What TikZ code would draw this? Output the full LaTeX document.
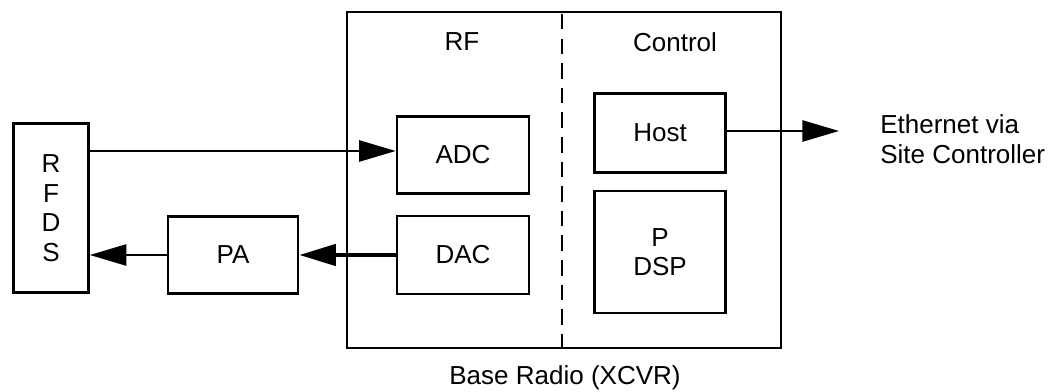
\documentclass[tikz,border=0pt]{standalone}
\usepackage{fontspec}
\setmainfont{Liberation Sans}
\usetikzlibrary{arrows.meta}

\begin{document}
\begin{tikzpicture}[x=0.025cm, y=-0.025cm,
    bloc/.style={draw, line width=1.8pt, inner sep=0pt, align=center},
    fleche/.style={line width=1.6pt, -{Triangle[length=26pt, width=15pt]}}]
    \fontsize{18.5}{21}\selectfont
    \useasboundingbox (0,0) rectangle (1052,392);

    % Boitier Base Radio
    \coordinate (NO) at (347,12);
    \coordinate (SE) at (781,348);
    \draw[line width=1.8pt] (NO) rectangle (SE);
    \draw[line width=2pt, dash pattern=on 11pt off 6.5pt] (562,14) -- (562,348);

    % Etiquettes des zones
    \node (rf) at (462,42) {RF};
    \node (ctrl) at (675,42) {Control};
    \node (radio) at (565,378) {Base Radio (XCVR)};

    % Blocs
    \node[bloc, minimum width=3.3cm, minimum height=1.925cm] (adc) at (463,155) {ADC};
    \node[bloc, minimum width=3.3cm, minimum height=1.95cm] (dac) at (463,255) {DAC};
    \node[bloc, minimum width=3.275cm, minimum height=1.975cm] (host) at (660,133) {Host};
    \node[bloc, minimum width=3.275cm, minimum height=3.05cm] (dsp) at (660,252) {P\\DSP};
    \node[bloc, minimum width=1.875cm, minimum height=4.225cm, align=center] (rfds) at (51,208)
        {\fontsize{18.5}{21}\selectfont R\\F\\D\\S};
    \node[bloc, minimum width=3.25cm, minimum height=1.925cm] (pa) at (233,255) {PA};

    % Sortie Ethernet
    \coordinate (eth) at (839,131);
    \node[anchor=west, align=left, inner sep=0pt] (ethtxt) at (880,139)
        {\fontsize{18.5}{17.7}\selectfont Ethernet via\\Site Controller};

    % Liaisons
    \draw[fleche] (rfds.east |- 0,151) -- (adc.west |- 0,151);
    \draw[fleche, line width=3pt] (dac.west) -- (pa.east);
    \draw[fleche] (pa.west) -- (rfds.east |- pa.west);
    \draw[fleche] (host.east |- eth) -- (eth);
\end{tikzpicture}
\end{document}
